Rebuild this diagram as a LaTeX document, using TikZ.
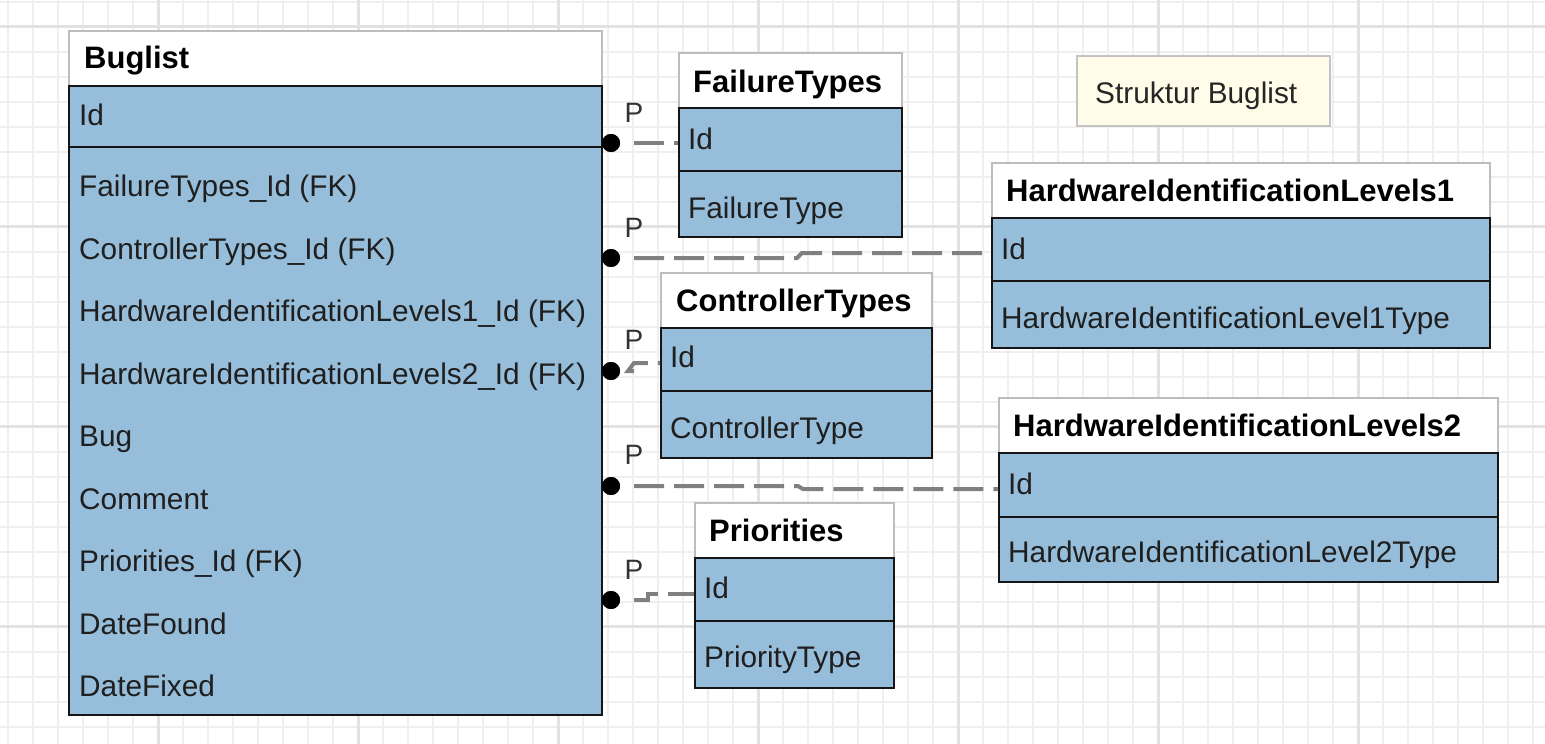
\documentclass[tikz,border=0pt]{standalone}
\usepackage{fontspec}
\setmainfont{Liberation Sans}
\definecolor{gridminor}{HTML}{EFEFEF}
\definecolor{gridmajor}{HTML}{E2E2E2}
\definecolor{rowblue}{HTML}{96BEDA}
\definecolor{hdrline}{HTML}{BDBDBD}
\definecolor{bodyline}{HTML}{151515}
\definecolor{relgray}{HTML}{808080}
\definecolor{notefill}{HTML}{FFFDEA}
\definecolor{noteline}{HTML}{C4C4C4}
\tikzset{
  hdrbox/.style={draw=hdrline, fill=white, line width=2pt, inner sep=0pt, anchor=north west},
  rowbox/.style={draw=bodyline, fill=rowblue, line width=2pt, inner sep=0pt, anchor=north west},
  notebox/.style={draw=noteline, fill=notefill, line width=2pt, inner sep=0pt, anchor=north west},
  txt/.style={font=\fontsize{29.8}{34}\selectfont, inner sep=0pt, anchor=base west, text=black!88},
  hdr/.style={font=\bfseries\fontsize{31}{36}\selectfont, inner sep=0pt, anchor=base west, text=black},
  plabel/.style={font=\fontsize{28}{32}\selectfont, inner sep=0pt, anchor=center, text=black!80},
  fkdot/.style={circle, fill=black, minimum size=18pt, inner sep=0pt},
  rel/.style={draw=relgray, line width=4pt, dash pattern=on 30pt off 10pt, shorten <=14pt},
}
\begin{document}
\begin{tikzpicture}[x=1pt,y=-1pt]
\useasboundingbox (0,0) rectangle (1545,744);
\fill[white] (0,0) rectangle (1545,744);
% grid
\foreach \k in {0,...,61} \draw[gridminor, line width=2pt] ({8.3+25*\k},0) -- ({8.3+25*\k},744);
\foreach \k in {0,...,29} \draw[gridminor, line width=2pt] (0,{1.7+25*\k}) -- (1545,{1.7+25*\k});
\foreach \k in {0,...,6} \draw[gridmajor, line width=2.5pt] ({158.3+200*\k},0) -- ({158.3+200*\k},744);
\foreach \k in {0,...,3} \draw[gridmajor, line width=2.5pt] (0,{26.7+200*\k}) -- (1545,{26.7+200*\k});

% Buglist
\node[hdrbox, minimum width=533, minimum height=55] (bl-h) at (68,30) {};
\node[rowbox, minimum width=533, minimum height=61] (bl-id) at (68,85) {};
\node[rowbox, minimum width=533, minimum height=568] (bl-rest) at (68,146) {};
\node[hdr] (bl-ht) at (84,68) {Buglist};
\node[txt] (bl-idt) at (79,125.5) {Id};
\foreach \t [count=\i] in {FailureTypes\_Id (FK),ControllerTypes\_Id (FK),HardwareIdentificationLevels1\_Id (FK),HardwareIdentificationLevels2\_Id (FK),Bug,Comment,Priorities\_Id (FK),DateFound,DateFixed}
  \node[txt] (bl-r\i) at (79,{134.2+62.5*\i}) {\t};

% FailureTypes
\node[hdrbox, minimum width=223, minimum height=55] (ft-h) at (678,52) {};
\node[rowbox, minimum width=223, minimum height=63] (ft-id) at (678,107) {};
\node[rowbox, minimum width=223, minimum height=66] (ft-r) at (678,170) {};
\node[hdr] (ft-ht) at (693,92) {FailureTypes};
\node[txt] (ft-idt) at (688,149.5) {Id};
\node[txt] (ft-rt) at (688,218.5) {FailureType};

% HardwareIdentificationLevels1
\node[hdrbox, minimum width=498, minimum height=55] (h1-h) at (991,162) {};
\node[rowbox, minimum width=498, minimum height=63] (h1-id) at (991,217) {};
\node[rowbox, minimum width=498, minimum height=67] (h1-r) at (991,280) {};
\node[hdr] (h1-ht) at (1006,201) {HardwareIdentificationLevels1};
\node[txt] (h1-idt) at (1001,259.5) {Id};
\node[txt] (h1-rt) at (1001,328.5) {HardwareIdentificationLevel1Type};

% ControllerTypes
\node[hdrbox, minimum width=271, minimum height=55] (ct-h) at (660,272) {};
\node[rowbox, minimum width=271, minimum height=63] (ct-id) at (660,327) {};
\node[rowbox, minimum width=271, minimum height=67] (ct-r) at (660,390) {};
\node[hdr] (ct-ht) at (676,311) {ControllerTypes};
\node[txt] (ct-idt) at (670,367.5) {Id};
\node[txt] (ct-rt) at (670,438.5) {ControllerType};

% HardwareIdentificationLevels2
\node[hdrbox, minimum width=499, minimum height=55] (h2-h) at (998,397) {};
\node[rowbox, minimum width=499, minimum height=64] (h2-id) at (998,452) {};
\node[rowbox, minimum width=499, minimum height=65] (h2-r) at (998,516) {};
\node[hdr] (h2-ht) at (1013,436) {HardwareIdentificationLevels2};
\node[txt] (h2-idt) at (1008,494.5) {Id};
\node[txt] (h2-rt) at (1008,562.5) {HardwareIdentificationLevel2Type};

% Priorities
\node[hdrbox, minimum width=199, minimum height=55] (pr-h) at (694,502) {};
\node[rowbox, minimum width=199, minimum height=63] (pr-id) at (694,557) {};
\node[rowbox, minimum width=199, minimum height=67] (pr-r) at (694,620) {};
\node[hdr] (pr-ht) at (709,541) {Priorities};
\node[txt] (pr-idt) at (704,598.5) {Id};
\node[txt] (pr-rt) at (704,667.5) {PriorityType};

% note
\node[notebox, minimum width=253, minimum height=70] (note) at (1076,55) {};
\node[txt, text=black!85] (note-t) at (1095,103.5) {Struktur Buglist};

% relationship dots
\node[fkdot] (d1) at (611,143) {};
\node[fkdot] (d2) at (611,258) {};
\node[fkdot] (d3) at (611,371) {};
\node[fkdot] (d4) at (611,486) {};
\node[fkdot] (d5) at (611,600) {};
\coordinate (c2a) at (797,258);
\coordinate (c2b) at (802,253);
\coordinate (c3a) at (628,371);
\coordinate (c3b) at (634,363);
\coordinate (c4a) at (798,486);
\coordinate (c4b) at (803,489);
\coordinate (c5a) at (648,600);
\coordinate (c5b) at (648,594);

\draw[rel] (d1) -- (d1 -| ft-id.west);
\draw[rel] (d2) -- (c2a) -- (c2b) -- (c2b -| h1-id.west);
\draw[rel] (d3) -- (c3a) -- (c3b) -- (c3b -| ct-id.west);
\draw[rel] (d4) -- (c4a) -- (c4b) -- (c4b -| h2-id.west);
\draw[rel] (d5) -- (c5a) -- (c5b) -- (c5b -| pr-id.west);
\node[fkdot] at (d1) {};
\node[fkdot] at (d2) {};
\node[fkdot] at (d3) {};
\node[fkdot] at (d4) {};
\node[fkdot] at (d5) {};

\node[plabel] (p1) at (634,113) {P};
\node[plabel] (p2) at (634,228) {P};
\node[plabel] (p3) at (634,340) {P};
\node[plabel] (p4) at (634,455) {P};
\node[plabel] (p5) at (634,570) {P};
\end{tikzpicture}
\end{document}
